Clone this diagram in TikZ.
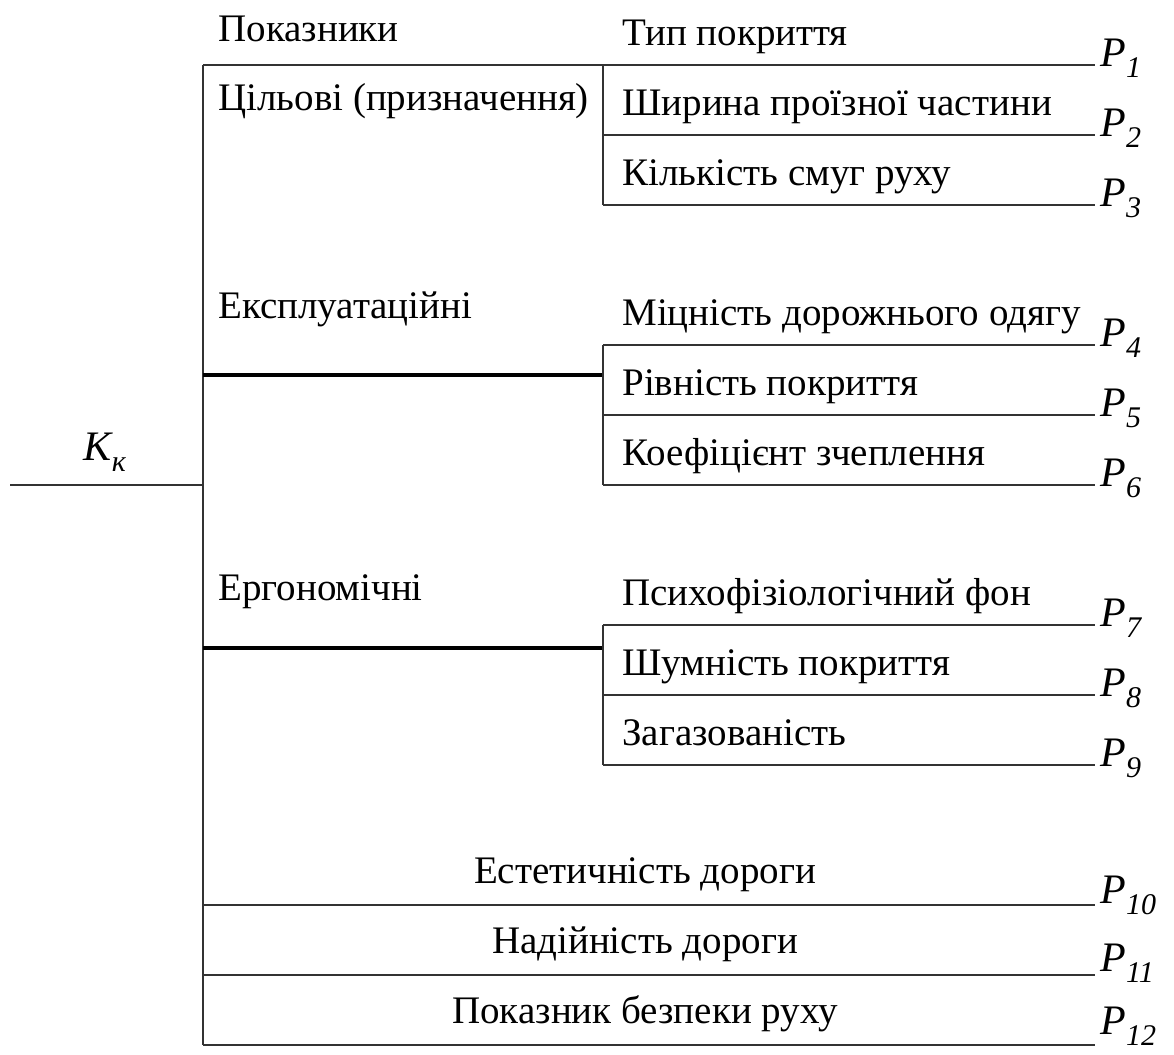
\documentclass[tikz,border=0pt]{standalone}
\usepackage{fontspec}
\setmainfont{Liberation Serif}
\usetikzlibrary{positioning}

\tikzset{
  ln/.style={line width=1pt, black!80},
  thk/.style={line width=1.6pt, black},
  lbl/.style={anchor=base west, inner sep=0pt, font=\fontsize{19.5}{23}\selectfont},
  clbl/.style={anchor=base, inner sep=0pt, font=\fontsize{19.5}{23}\selectfont},
  plbl/.style={anchor=base west, inner sep=0pt, font=\fontsize{21}{24}\selectfont\itshape},
}
\newcommand{\pidx}[2]{#1\raisebox{-0.6ex}{\fontsize{15}{17}\selectfont #2}}

\begin{document}
\begin{tikzpicture}[x=0.5pt,y=-0.5pt]
  \useasboundingbox (0,0) rectangle (1174,1055);

  % root K
  \coordinate (k0) at (10,485);
  \coordinate (k1) at (203,485);
  \coordinate (trtop) at (203,65);
  \coordinate (trbot) at (203,1045);
  \draw[ln] (k0) -- (k1);
  \draw[ln] (trtop) -- (trbot);
  \node[plbl, anchor=base] (kk) at (105,460) {\pidx{K}{к}};

  % group 1
  \coordinate (s1) at (203,65);
  \coordinate (g1a) at (603,65);
  \coordinate (s2) at (603,135);
  \coordinate (s3) at (603,205);
  \coordinate (e1) at (1095,65);
  \coordinate (e2) at (1095,135);
  \coordinate (e3) at (1095,205);
  \draw[ln] (s1) -- (e1);
  \draw[ln] (g1a) -- (s3);
  \draw[ln] (s2) -- (e2);
  \draw[ln] (s3) -- (e3);

  % group 2
  \coordinate (s4) at (603,345);
  \coordinate (s5) at (603,415);
  \coordinate (s6) at (603,485);
  \coordinate (e4) at (1095,345);
  \coordinate (e5) at (1095,415);
  \coordinate (e6) at (1095,485);
  \coordinate (g2a) at (203,375);
  \coordinate (g2b) at (603,375);
  \draw[thk] (g2a) -- (g2b);
  \draw[ln] (s4) -- (s6);
  \draw[ln] (s4) -- (e4);
  \draw[ln] (s5) -- (e5);
  \draw[ln] (s6) -- (e6);

  % group 3
  \coordinate (s7) at (603,625);
  \coordinate (s8) at (603,695);
  \coordinate (s9) at (603,765);
  \coordinate (e7) at (1095,625);
  \coordinate (e8) at (1095,695);
  \coordinate (e9) at (1095,765);
  \coordinate (g3a) at (203,648);
  \coordinate (g3b) at (603,648);
  \draw[thk] (g3a) -- (g3b);
  \draw[ln] (s7) -- (s9);
  \draw[ln] (s7) -- (e7);
  \draw[ln] (s8) -- (e8);
  \draw[ln] (s9) -- (e9);

  % group 4
  \coordinate (s10) at (203,905);
  \coordinate (s11) at (203,975);
  \coordinate (s12) at (203,1045);
  \coordinate (e10) at (1095,905);
  \coordinate (e11) at (1095,975);
  \coordinate (e12) at (1095,1045);
  \draw[ln] (s10) -- (e10);
  \draw[ln] (s11) -- (e11);
  \draw[ln] (s12) -- (e12);

  % left labels
  \node[lbl] (pokaz) at (218,41) {Показники};
  \node[lbl] (cil) at (218,110) {Цільові (призначення)};
  \node[lbl] (ekspl) at (218,318) {Експлуатаційні};
  \node[lbl] (ergo) at (218,600) {Ергономічні};

  % right labels
  \node[lbl] (tyn) at (622,45) {Тип покриття};
  \node[lbl] (shyr) at (622,115) {Ширина проїзної частини};
  \node[lbl] (smug) at (622,185) {Кількість смуг руху};
  \node[lbl] (mic) at (622,325) {Міцність дорожнього одягу};
  \node[lbl] (rivn) at (622,395) {Рівність покриття};
  \node[lbl] (koef) at (622,465) {Коефіцієнт зчеплення};
  \node[lbl] (psych) at (622,605) {Психофізіологічний фон};
  \node[lbl] (shum) at (622,675) {Шумність покриття};
  \node[lbl] (gaz) at (622,745) {Загазованість};

  % bottom labels
  \node[clbl] (est) at (645,883) {Естетичність дороги};
  \node[clbl] (nad) at (645,953) {Надійність дороги};
  \node[clbl] (bezp) at (645,1023) {Показник безпеки руху};

  % P labels
  \node[plbl] (p1) at (1100,66) {\pidx{P}{1}};
  \node[plbl] (p2) at (1100,136) {\pidx{P}{2}};
  \node[plbl] (p3) at (1100,206) {\pidx{P}{3}};
  \node[plbl] (p4) at (1100,346) {\pidx{P}{4}};
  \node[plbl] (p5) at (1100,416) {\pidx{P}{5}};
  \node[plbl] (p6) at (1100,486) {\pidx{P}{6}};
  \node[plbl] (p7) at (1100,626) {\pidx{P}{7}};
  \node[plbl] (p8) at (1100,696) {\pidx{P}{8}};
  \node[plbl] (p9) at (1100,766) {\pidx{P}{9}};
  \node[plbl] (p10) at (1100,903) {\pidx{P}{10}};
  \node[plbl] (p11) at (1100,971) {\pidx{P}{11}};
  \node[plbl] (p12) at (1100,1034) {\pidx{P}{12}};
\end{tikzpicture}
\end{document}
